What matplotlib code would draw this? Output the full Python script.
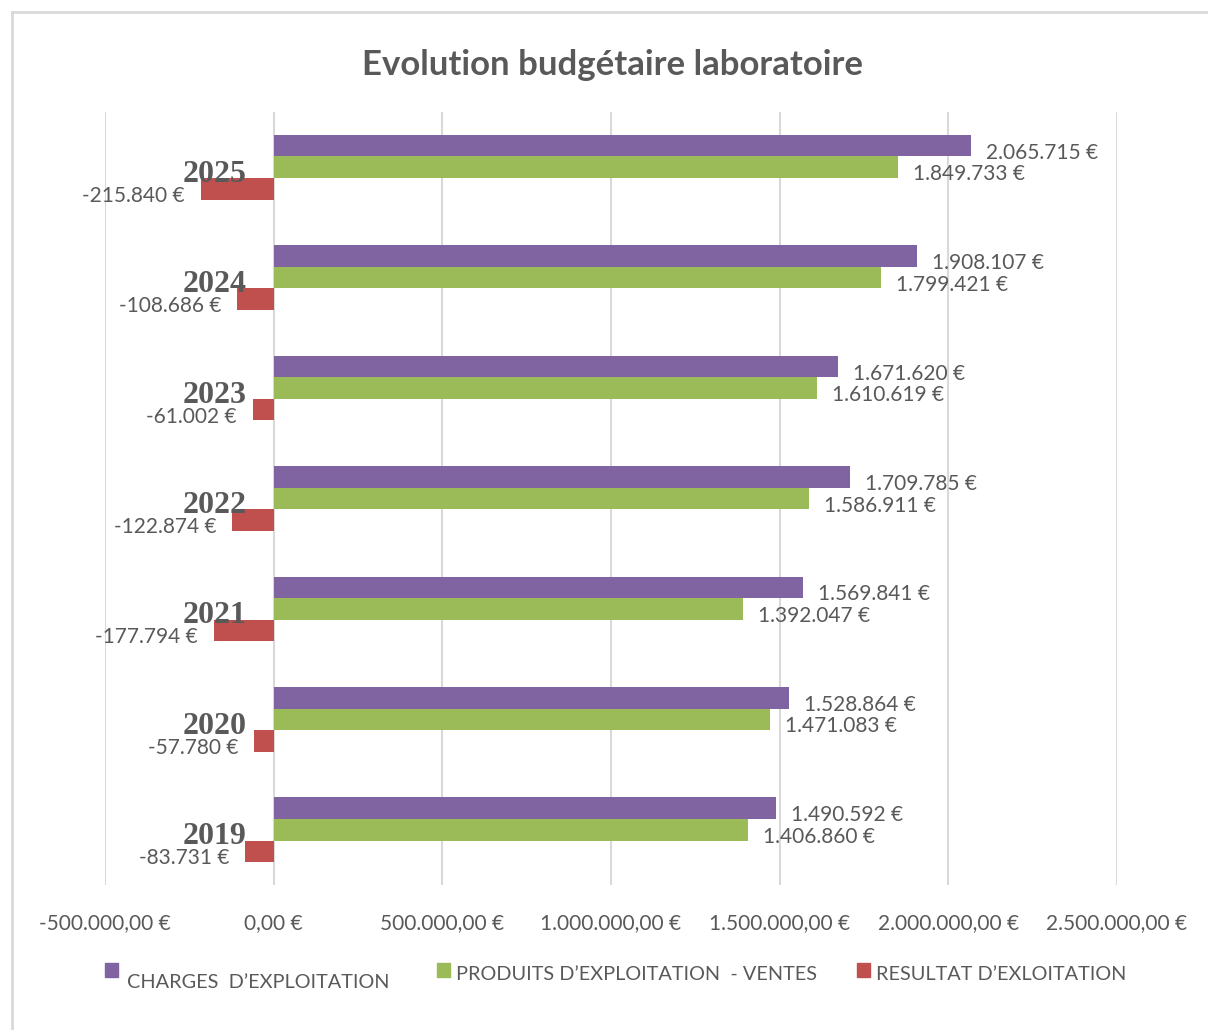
import matplotlib.pyplot as plt
from matplotlib.patches import Rectangle
from matplotlib.lines import Line2D
from matplotlib.ticker import FuncFormatter

# Data
years = ['2019', '2020', '2021', '2022', '2023', '2024', '2025']
charges = [1490592, 1528864, 1569841, 1709785, 1671620, 1908107, 2065715]
produits = [1406860, 1471083, 1392047, 1586911, 1610619, 1799421, 1849733]
resultat = [-83731, -57780, -177794, -122874, -61002, -108686, -215840]
series_names = ['CHARGES  D\u2019EXPLOITATION', 'PRODUITS D\u2019EXPLOITATION  - VENTES',
                'RESULTAT D\u2019EXLOITATION']
colors = ['#8064A2', '#9BBB59', '#C0504D']
x_ticks = [-500000, 0, 500000, 1000000, 1500000, 2000000, 2500000]

grey = '#595959'
plt.rcParams['font.family'] = ['Lato', 'DejaVu Sans']


def fmt_int(v):
    s = f"{abs(v):,}".replace(',', '.')
    return ('-' if v < 0 else '') + s + ' \u20ac'


def fmt_tick(v, pos=None):
    s = f"{abs(v):,.2f}".replace(',', ' ').replace('.', ',').replace(' ', '.')
    return ('-' if v < 0 else '') + s + ' \u20ac'


fig = plt.figure(figsize=(12.08, 10.30), dpi=100)
ax = fig.add_axes([105 / 1208, 145 / 1030, 1012 / 1208, 773 / 1030])

h = 0.195
pos = list(range(len(years)))
bars_c = ax.barh([p + h for p in pos], charges, height=h, color=colors[0])
bars_p = ax.barh(pos, produits, height=h, color=colors[1])
bars_r = ax.barh([p - h for p in pos], resultat, height=h, color=colors[2])

for bars, vals in [(bars_c, charges), (bars_p, produits)]:
    for b, v in zip(bars, vals):
        ax.annotate(fmt_int(v), (v, b.get_y() + b.get_height() / 2),
                    xytext=(15, -7), textcoords='offset pixels',
                    ha='left', va='center', fontsize=15, color=grey)
for b, v in zip(bars_r, resultat):
    ax.annotate(fmt_int(v), (v, b.get_y() + b.get_height() / 2),
                xytext=(-16, -7), textcoords='offset pixels',
                ha='right', va='center', fontsize=15, color=grey)

# year labels next to the zero line
for p, y in zip(pos, years):
    ax.annotate(y, (0, p), xytext=(-27, -7), textcoords='offset pixels',
                ha='right', va='center', fontsize=23, fontweight='bold',
                family=['Liberation Serif', 'DejaVu Serif'], color=grey)

ax.set_xlim(-500000, 2500000)
ax.set_ylim(-0.5, 6.5)
ax.set_xticks(x_ticks)
ax.xaxis.set_major_formatter(FuncFormatter(fmt_tick))
ax.set_yticks([])
ax.tick_params(axis='x', length=0, pad=20, labelsize=15, labelcolor=grey)
ax.grid(axis='x', color='#d9d9d9', linewidth=1.5)
ax.set_axisbelow(True)
for s in ax.spines.values():
    s.set_visible(False)

fig.text(613 / 1208, 1 - 65 / 1030, 'Evolution budg\u00e9taire laboratoire',
         ha='center', va='center', fontsize=25, fontweight='bold', color=grey)

# legend drawn by hand
leg = [(105, 127, 982), (437, 456, 974), (857, 876, 974)]
for (sx, tx, ty), name, c in zip(leg, series_names, colors):
    fig.patches.append(Rectangle((sx / 1208, 1 - 977 / 1030), 13 / 1208, 14 / 1030,
                                 transform=fig.transFigure, color=c))
    fig.text(tx / 1208, 1 - ty / 1030, name, ha='left', va='center',
             fontsize=14.3, color=grey)

# chart border
fig.lines.append(Line2D([12 / 1208, 12 / 1208], [0, 1 - 12 / 1030],
                        transform=fig.transFigure, color='#d9d9d9', linewidth=2))
fig.lines.append(Line2D([12 / 1208, 1], [1 - 12 / 1030, 1 - 12 / 1030],
                        transform=fig.transFigure, color='#d9d9d9', linewidth=2))

fig.savefig('out.png', dpi=100)
